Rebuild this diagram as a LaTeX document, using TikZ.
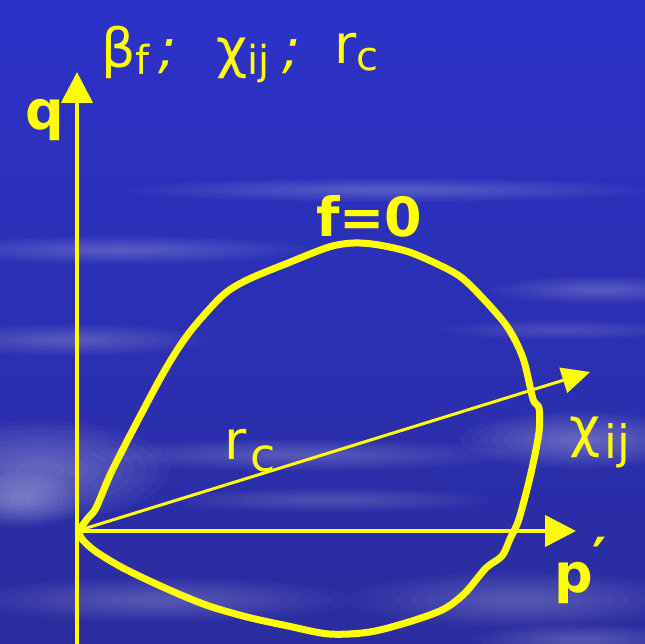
\documentclass[tikz,border=0pt]{standalone}
\usepackage{fontspec}
\setmainfont{DejaVu Sans}
\usetikzlibrary{arrows.meta}
\definecolor{bgtop}{RGB}{44,50,200}
\definecolor{bgbot}{RGB}{42,44,158}
\definecolor{ylw}{RGB}{255,255,0}
\newcommand{\lowsub}[1]{\raisebox{-7pt}{\fontsize{40}{44}\selectfont #1}}
\newcommand{\bigsub}[1]{\kern4pt\raisebox{-12pt}{\fontsize{46}{50}\selectfont #1}}
\newcommand{\streak}[5]{%
  \foreach \k in {0,...,9}{%
    \fill[white,fill opacity=#5] (#1,#2) ellipse ({#3*(1-0.09*\k)} and {#4*(1-0.09*\k)});}}
\begin{document}
\begin{tikzpicture}[x=1pt,y=-1pt,
  axisline/.style={draw=ylw,line width=4.5pt,-{Triangle[length=31pt,width=31pt]}},
  rayline/.style={draw=ylw,line width=3pt,-{Triangle[length=28pt,width=26pt]}},
  yieldcurve/.style={draw=ylw,line width=7pt,line join=round,line cap=round},
  lbl/.style={text=ylw,inner sep=0pt,font=\fontsize{54}{60}\selectfont}]
\shade[top color=bgtop,bottom color=bgbot] (0,0) rectangle (645,644);
\useasboundingbox (0,0) rectangle (645,644);
% clouds (soft light streaks)
\streak{390}{190}{260}{12}{0.022}
\streak{120}{250}{190}{14}{0.025}
\streak{600}{290}{110}{14}{0.022}
\streak{70}{340}{140}{16}{0.025}
\streak{560}{330}{120}{10}{0.016}
\streak{40}{470}{130}{50}{0.03}
\streak{20}{500}{60}{28}{0.03}
\streak{300}{455}{210}{16}{0.025}
\streak{580}{440}{120}{28}{0.03}
\streak{160}{600}{190}{22}{0.025}
\streak{520}{600}{170}{28}{0.025}
\streak{580}{640}{110}{16}{0.025}
\streak{330}{500}{160}{12}{0.02}
% coordinates
\coordinate (O) at (77,531);
\coordinate (qbot) at (77,644);
\coordinate (qtip) at (77,72);
\coordinate (ptip) at (576,531);
\coordinate (xtip) at (590,372);
% axes
\draw[axisline] (qbot) -- (qtip);
\draw[axisline] (O) -- (ptip);
\draw[rayline] (O) -- (xtip);
% yield curve f=0
\draw[yieldcurve] plot[smooth,tension=0.5] coordinates {
 (79,530) (88,518) (96,508) (111,473) (136,424) (165,370) (189,333) (222,296)
 (247,280) (288,263) (329,247) (354,243) (379,245) (412,253) (453,272)
 (473,288) (506,325) (523,358) (533,399) (539,408) (539,432) (531,473)
 (519,519) (510,539) (502,556) (486,568) (465,593) (444,609) (412,621)
 (370,632) (329,634) (288,626) (247,617) (206,605) (165,588) (123,568)
 (95,551) (82,539) (79,532)};
% labels
\node[lbl,anchor=base west] (beta) at (101,68) {β\lowsub{f}};
\node[lbl,anchor=base west] (semia) at (158,68) {\textsl{;}};
\node[lbl,anchor=base west] (chi) at (216,68) {χ\lowsub{ij}};
\node[lbl,anchor=base west] (semib) at (282,68) {\textsl{;}};
\node[lbl,anchor=base west] (rct) at (334,64) {r\lowsub{c}};
\node[lbl,anchor=base west] (qlbl) at (25,130) {\bfseries q};
\node[lbl,anchor=base west] (flbl) at (316,237) {\bfseries f=0};
\node[lbl,anchor=base west] (rlbl) at (224,459) {r\bigsub{c}};
\node[lbl,anchor=base west] (chilbl) at (569,446) {χ\bigsub{ij}};
\node[lbl,anchor=base west] (plbl) at (554,592) {\bfseries p\raisebox{16pt}{′}};
\end{tikzpicture}
\end{document}
